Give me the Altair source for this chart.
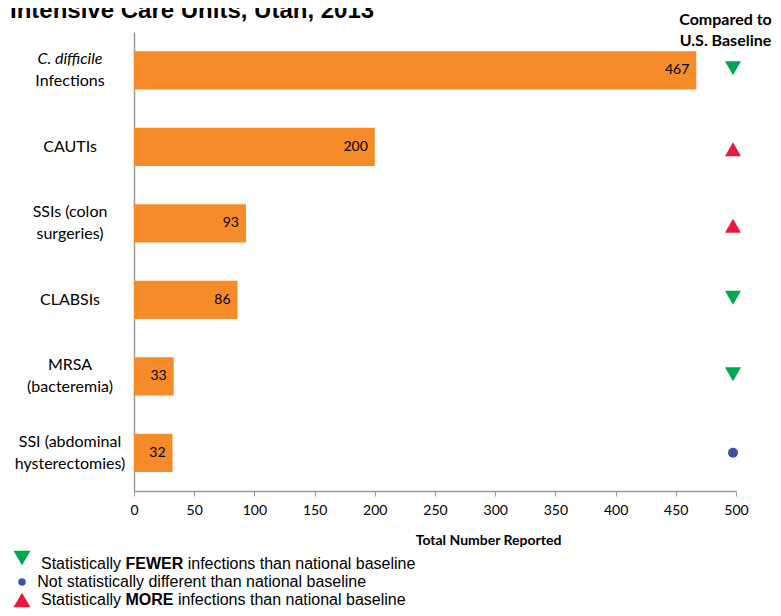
import altair as alt
import pandas as pd

# ---------------- data ----------------
categories = ["C. difficile Infections", "CAUTIs", "SSIs (colon surgeries)",
              "CLABSIs", "MRSA (bacteremia)", "SSI (abdominal hysterectomies)"]
label_line1 = ["C. difficile", "CAUTIs", "SSIs (colon", "CLABSIs", "MRSA", "SSI (abdominal"]
label_line2 = ["Infections", "", "surgeries)", "", "(bacteremia)", "hysterectomies)"]
label_italic = [True, False, False, False, False, False]
totals = [467, 200, 93, 86, 33, 32]
comparison = ["fewer", "more", "more", "fewer", "fewer", "same"]

status_order = ["fewer", "same", "more"]
status_shapes = ["triangle-down", "circle", "triangle-up"]
status_colors = ["#00A651", "#3A53A4", "#E8193C"]

x_ticks = [0, 50, 100, 150, 200, 250, 300, 350, 400, 450, 500]
marker_x = 497.5

title_text = "Intensive Care Units, Utah, 2013"
header_lines = ["Compared to", "U.S. Baseline"]
axis_title = "Total Number Reported"
legend_line1 = ["Statistically", "FEWER", "infections than national baseline"]
legend_line2 = ["Not statistically different than national baseline"]
legend_line3 = ["Statistically", "MORE", "infections than national baseline"]

ORANGE = "#F68B29"
GRAY = "#9A9A9A"
FONT = "Lato"
ARIAL = "Liberation Sans"

df = pd.DataFrame({
    "category": categories,
    "line1": label_line1,
    "line2": label_line2,
    "italic": label_italic,
    "total": totals,
    "comparison": comparison,
})

y_enc = alt.Y("category:N", sort=categories,
              scale=alt.Scale(paddingInner=0.5, paddingOuter=0.25),
              axis=alt.Axis(labels=False, ticks=False, title=None, grid=False,
                            domainColor=GRAY, domainWidth=1.5))
x_scale = alt.Scale(domain=[0, 500], nice=False, zero=True)
x_axis = alt.Axis(values=x_ticks, grid=False, tickSize=5, tickColor=GRAY,
                  domainColor=GRAY, domainWidth=1.5, labelFont=FONT, labelFontSize=14,
                  labelColor="black", labelPadding=7, labelFlush=False,
                  labelOverlap=False,
                  title=axis_title, titleFont=FONT, titleFontSize=14,
                  titleFontWeight="bold", titleColor="black",
                  titleX=354, titleY=49, titleBaseline="middle", titleAlign="center")

base = alt.Chart(df).encode(y=y_enc)

bars = base.mark_bar(color=ORANGE).encode(
    x=alt.X("total:Q", scale=x_scale, axis=x_axis))

value_labels = base.mark_text(align="right", baseline="middle", dx=-7,
                              font=FONT, fontSize=14, color="black").encode(
    x=alt.X("total:Q"), text=alt.Text("total:Q"))

# comparison markers
marker_layers = []
y_offsets = {"fewer": -2, "same": 0, "more": 2.5}
marker_sizes = {"fewer": 256, "same": 100, "more": 256}
for st, shp, col in zip(status_order, status_shapes, status_colors):
    marker_layers.append(
        base.transform_filter(alt.datum.comparison == st).mark_point(
            shape=shp, filled=True, color=col, opacity=1,
            size=marker_sizes[st], yOffset=y_offsets[st]).encode(
            x=alt.datum(marker_x)))

# category labels (multi-line, first one italic)
lbl_style = dict(align="center", baseline="middle", font=FONT, fontSize=16, color="black")
lbl_italic = base.transform_filter("datum.italic").mark_text(
    dy=-11, fontStyle="italic", **lbl_style).encode(x=alt.value(-64), text="line1:N")
lbl_two = base.transform_filter("!datum.italic && datum.line2 != ''").mark_text(
    dy=-11, **lbl_style).encode(x=alt.value(-64), text="line1:N")
lbl_single = base.transform_filter("datum.line2 == ''").mark_text(
    dy=0, **lbl_style).encode(x=alt.value(-64), text="line1:N")
lbl_second = base.transform_filter("datum.line2 != ''").mark_text(
    dy=11, **lbl_style).encode(x=alt.value(-64), text="line2:N")


def text_at(txt, x, y, font, size, bold=False, align="left"):
    return alt.Chart(pd.DataFrame({"t": [txt]})).mark_text(
        align=align, baseline="alphabetic", font=font, fontSize=size,
        fontWeight="bold" if bold else "normal", color="black").encode(
        text="t:N", x=alt.value(x), y=alt.value(y))


def symbol_at(shape, color, size, x, y):
    return alt.Chart(pd.DataFrame({"s": [shape]})).mark_point(
        shape=shape, filled=True, color=color, opacity=1, size=size).encode(
        x=alt.value(x), y=alt.value(y))


annotations = [
    text_at(title_text, -124, -14, ARIAL, 24, bold=True),
    text_at(header_lines[0], 591.5, -7, FONT, 16, bold=True, align="center"),
    text_at(header_lines[1], 591.5, 14, FONT, 16, bold=True, align="center"),
    # legend
    symbol_at(status_shapes[0], status_colors[0], 289, -112, 526),
    symbol_at(status_shapes[1], status_colors[1], 56, -112, 550),
    symbol_at(status_shapes[2], status_colors[2], 289, -112, 568),
    text_at(legend_line1[0], -93, 537, ARIAL, 16),
    text_at(legend_line1[1], -8.5, 537, ARIAL, 16, bold=True),
    text_at(legend_line1[2], 53.7, 537, ARIAL, 16),
    text_at(legend_line2[0], -96.7, 555, ARIAL, 16),
    text_at(legend_line3[0], -93, 573, ARIAL, 16),
    text_at(legend_line3[1], -8.5, 573, ARIAL, 16, bold=True),
    text_at(legend_line3[2], 43.9, 573, ARIAL, 16),
]

chart = alt.layer(
    bars, value_labels, *marker_layers,
    lbl_italic, lbl_two, lbl_single, lbl_second,
    *annotations
).properties(
    width=602, height=459,
    padding={"left": 126, "top": 24, "right": 37, "bottom": 117},
    autosize=alt.AutoSizeParams(type="none"),
).configure_view(stroke=None)

chart.save("out.html", embed_options={"renderer": "svg", "actions": False})
